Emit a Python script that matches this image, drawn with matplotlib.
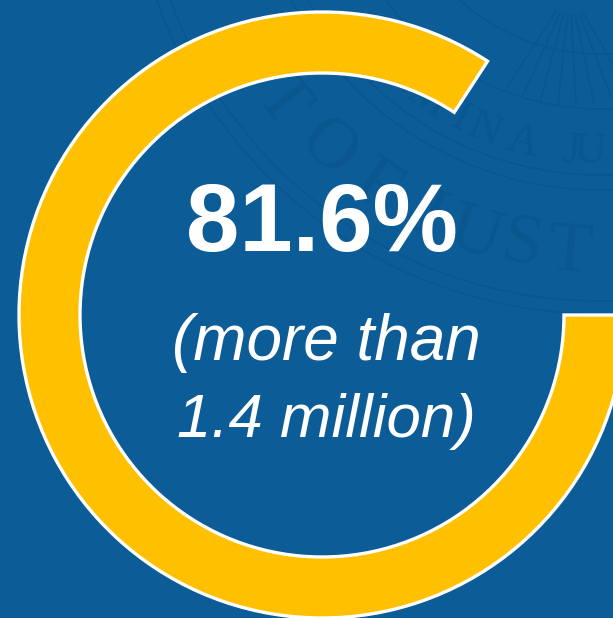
import matplotlib
matplotlib.use("Agg")
import matplotlib.pyplot as plt
import numpy as np
from matplotlib.patches import Wedge, Circle

# the ring as drawn covers a bit more than the printed figure
ring_share = 84.2
big_label = "81.6%"
sub_labels = ["(more than", "1.4 million)"]

# seal lettering behind the ring, with screen angles around the seal centre
outer_letters = ["T", "O", "F", "J", "U", "S", "T"]
outer_angles = [141, 131.7, 123, 115, 107.8, 101, 94.2]
inner_letters = ["M", "I", "N", "A", "J", "U"]
inner_angles = [124, 117, 112, 104.5, 95.5, 92]
seal_radii = [210, 265, 331, 346, 457, 470]

gold = "#FFC000"
navy = "#0B5C97"
seal = "#0A568F"

plt.rcParams['font.family'] = ['Liberation Sans', 'DejaVu Sans']

fig = plt.figure(figsize=(6.13, 6.18), dpi=100, facecolor=navy)
ax = fig.add_axes([0, 0, 1, 1])
ax.set_xlim(0, 613)
ax.set_ylim(618, 0)
ax.set_aspect('equal')
ax.axis('off')

# faint seal, its centre sits above the top edge
sx, sy = 600, -156
for r in seal_radii:
    ax.add_patch(Circle((sx, sy), r, fill=False, ec=seal, lw=1.1, zorder=1))

def seal_text(letters, angles, radius, size):
    for ch, a in zip(letters, angles):
        x = sx + radius * np.cos(np.radians(a))
        y = sy + radius * np.sin(np.radians(a))
        ax.text(x, y, ch, color=seal, fontsize=size, family="Liberation Serif",
                rotation=90 - a, rotation_mode="anchor",
                ha="center", va="center", zorder=1)

seal_text(outer_letters, outer_angles, 410, 52)
seal_text(inner_letters, inner_angles, 308, 32)

# eagle feathers at the top right
for a in np.arange(60, 125, 9):
    x0 = 570 + 25 * np.cos(np.radians(a))
    y0 = -10 + 25 * np.sin(np.radians(a))
    x1 = 570 + 115 * np.cos(np.radians(a))
    y1 = -10 + 115 * np.sin(np.radians(a))
    ax.plot([x0, x1], [y0, y1], color=seal, lw=1.1, zorder=1)

# ring, clockwise on screen from 3 o'clock because the y axis is flipped
cx, cy, r_out, width = 322, 315, 303, 61
sweep = 360 * ring_share / 100
ax.add_patch(Wedge((cx, cy), r_out, 0, sweep, width=width, fc=gold, ec="white",
                   lw=2.4, joinstyle="miter", zorder=3))

ax.text(322, 251, big_label, color="white", fontsize=69, fontweight="bold",
        ha="center", va="baseline", zorder=4)
ax.text(326, 360, sub_labels[0], color="white", fontsize=46, style="italic",
        ha="center", va="baseline", zorder=4)
ax.text(326, 437, sub_labels[1], color="white", fontsize=44.5, style="italic",
        ha="center", va="baseline", zorder=4)

fig.savefig("out.png", dpi=100, facecolor=navy)
